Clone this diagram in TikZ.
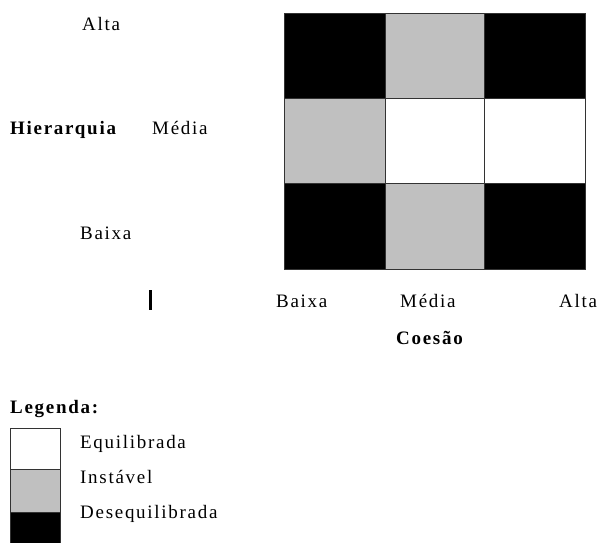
\documentclass[tikz,border=0pt]{standalone}
\usepackage{fontspec}
\setmainfont[LetterSpace=9]{Liberation Serif}
\usepackage{tikz}
\definecolor{cinza}{RGB}{192,192,192}
\tikzset{
	celula/.style={draw=black!80, line width=0.6pt},
	rotulo/.style={anchor=base west, inner sep=0pt, font=\fontsize{19}{22}\selectfont},
	titulo/.style={rotulo, font=\fontsize{19}{22}\selectfont\bfseries}
}

\begin{document}
\begin{tikzpicture}[x=1pt, y=-1pt]
				\useasboundingbox (0,0) rectangle (598,542);
				
				\draw[celula, fill=black] (284,13) rectangle (385,98);
				\draw[celula, fill=cinza] (385,13) rectangle (484,98);
				\draw[celula, fill=black] (484,13) rectangle (585,98);
				
				\draw[celula, fill=cinza] (284,98) rectangle (385,183);
				\draw[celula, fill=white] (385,98) rectangle (484,183);
				\draw[celula, fill=white] (484,98) rectangle (585,183);
				
				\draw[celula, fill=black] (284,183) rectangle (385,269);
				\draw[celula, fill=cinza] (385,183) rectangle (484,269);
				\draw[celula, fill=black] (484,183) rectangle (585,269);
				
				\node[rotulo] (hAlta) at (82,30) {Alta};
				\node[rotulo] (hMedia) at (152,134) {Média};
				\node[rotulo] (hBaixa) at (80,239) {Baixa};
				\node[titulo] (hierarquia) at (10,134) {Hierarquia};
				
				\draw[line width=3pt] (150,290) -- (150,310);
				
				\node[rotulo] (cBaixa) at (276,307) {Baixa};
				\node[rotulo] (cMedia) at (400,307) {Média};
				\node[rotulo] (cAlta) at (559,307) {Alta};
				\node[titulo] (coesao) at (396,344) {Coesão};
				
				\node[titulo] (legenda) at (10,413) {Legenda:};
				\draw[celula, fill=white] (10,428) rectangle (60,469);
				\draw[celula, fill=cinza] (10,469) rectangle (60,512);
				\draw[celula, fill=black] (10,512) rectangle (60,548);
				\node[rotulo] (equilibrada) at (80,448) {Equilibrada};
				\node[rotulo] (instavel) at (80,483) {Instável};
				\node[rotulo] (desequilibrada) at (80,518) {Desequilibrada};
			\end{tikzpicture}
\end{document}
